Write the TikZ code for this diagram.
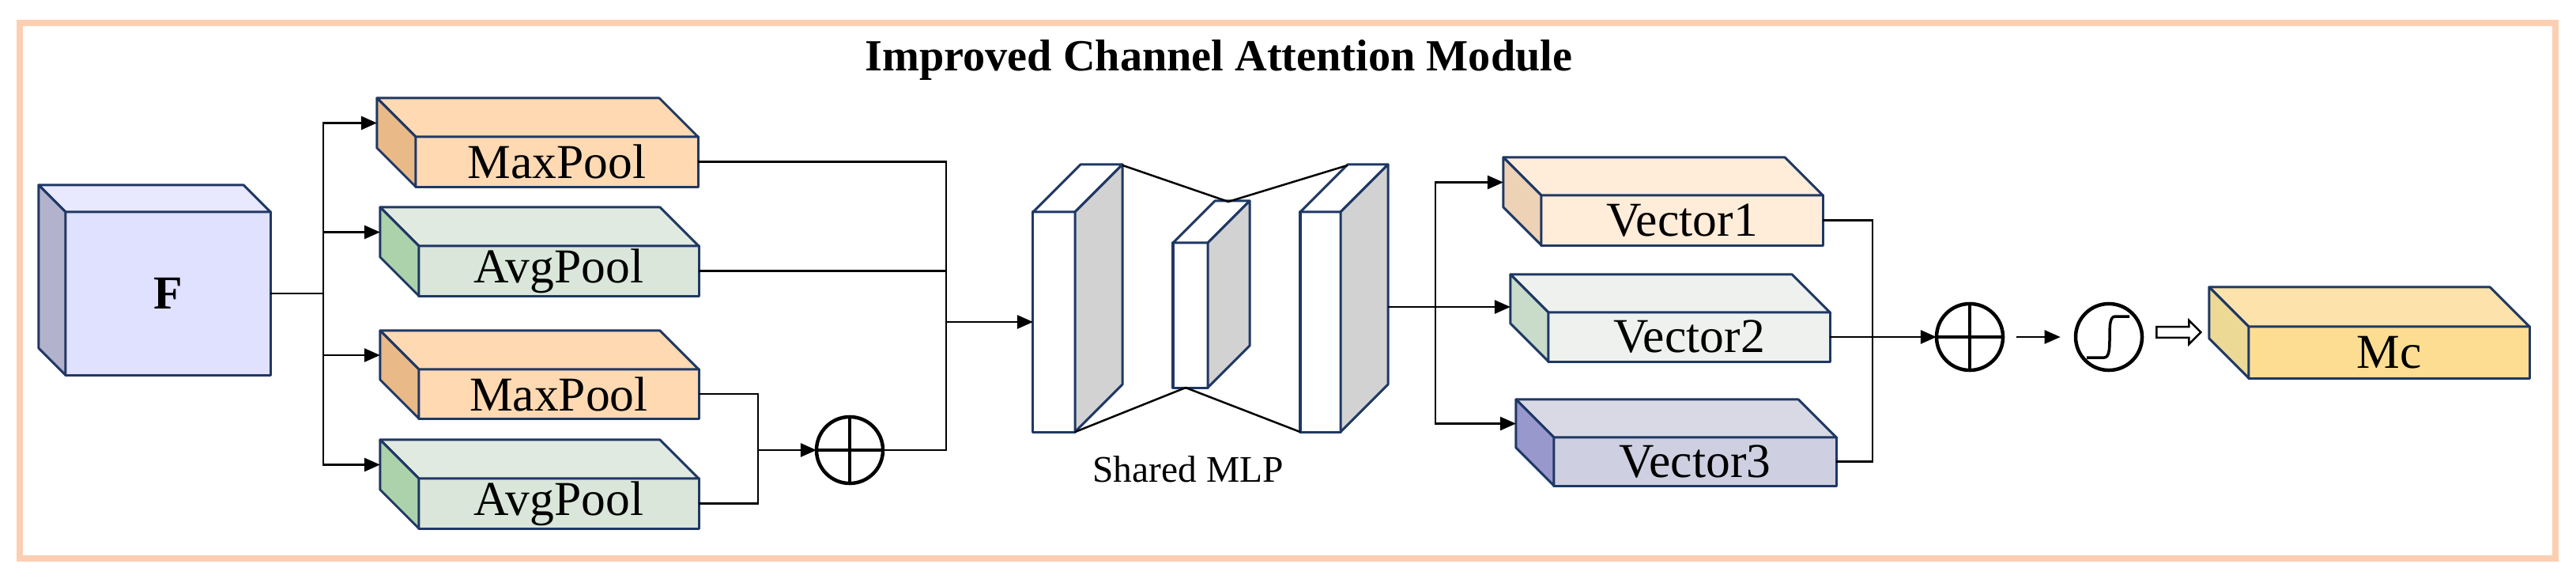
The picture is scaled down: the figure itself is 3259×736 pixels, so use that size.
\documentclass[tikz,border=0pt]{standalone}
\usepackage{fontspec}
\setmainfont{Liberation Serif}
\usepackage{xcolor}
\usetikzlibrary{arrows.meta,shapes.arrows,positioning,calc}

\definecolor{edgeblue}{HTML}{1F3864}
\definecolor{frameorange}{HTML}{FCCFB2}

\tikzset{
  edge/.style = {draw = edgeblue, line width = 0.03cm, line join = round},
  pbox/.style = {edge, rectangle, inner sep = 0pt, outer sep = 0pt,
                 font = \fontsize{17.5}{20}\selectfont},
  layer/.style = {edge, fill = white, rectangle, inner sep = 0pt, outer sep = 0pt},
  conn/.style = {draw = black, line width = 0.025cm},
  arr/.style = {conn, -{Triangle[length = 0.2cm, width = 0.17cm]}},
  oplus/.style = {circle, draw = black, line width = 0.045cm, minimum size = 0.84cm,
                  inner sep = 0pt, outer sep = 0pt,
                  path picture = {\draw[line width = 0.035cm]
                    ($(path picture bounding box.north)+(0,-0.13)$) -- ($(path picture bounding box.south)+(0,0.13)$)
                    ($(path picture bounding box.west)+(0.13,0)$) -- ($(path picture bounding box.east)+(-0.13,0)$);}}
}

% block with its back face up and to the left
% #1 name, #2 centre, #3 width, #4 height, #5 front, #6 top, #7 side, #8 text, #9 depth
\newcommand{\pblock}[9]{%
  \node[pbox, fill = #5, minimum width = #3, minimum height = #4] (#1) at #2 {#8};
  \draw[edge, fill = #6] (#1.north west) -- ++(-#9,-#9) -- ($(#1.north east)+(-#9,-#9)$) -- (#1.north east) -- cycle;
  \draw[edge, fill = #7] (#1.north west) -- ++(-#9,-#9) -- ($(#1.south west)+(-#9,-#9)$) -- (#1.south west) -- cycle;
  \coordinate (#1-in) at ($(#1.west)+(-#9,-#9)$);
}

% MLP layer, back face up and to the right
\newcommand{\mlplayer}[5]{%
  \node[layer, minimum width = #3, minimum height = #4] (#1) at #2 {};
  \draw[edge, fill = white] (#1.north west) -- ++(#5,-#5) -- ($(#1.north east)+(#5,-#5)$) -- (#1.north east) -- cycle;
  \draw[edge, fill = gray!35] (#1.north east) -- ++(#5,-#5) -- ($(#1.south east)+(#5,-#5)$) -- (#1.south east) -- cycle;
}

\begin{document}
\begin{tikzpicture}[x = 0.01cm, y = -0.01cm]
  \useasboundingbox (0,0) rectangle (3259,736);
  \draw[frameorange, line width = 0.08cm] (25,29) rectangle (3233,706);
  \node[font = \bfseries\fontsize{16}{18}\selectfont] (title) at (1542,76) {Improved Channel Attention Module};

  % input and pooling
  \pblock{f}{(212.5,371)}{2.59cm}{2.06cm}{blue!12}{blue!9}{blue!20!gray!50}{\bfseries\fontsize{17}{20}\selectfont F}{34}
  \pblock{mp1}{(704.5,204.5)}{3.57cm}{0.63cm}{orange!30}{orange!30}{orange!40!brown!55}{MaxPool}{49}
  \pblock{ap1}{(707,342.5)}{3.54cm}{0.63cm}{green!20!gray!25}{green!18!gray!20}{green!30!gray!50}{AvgPool}{49}
  \pblock{mp2}{(707,498)}{3.54cm}{0.62cm}{orange!30}{orange!30}{orange!40!brown!55}{MaxPool}{49}
  \pblock{ap2}{(707,636.5)}{3.54cm}{0.63cm}{green!20!gray!25}{green!18!gray!20}{green!30!gray!50}{AvgPool}{49}

  \coordinate (s1) at (409,371);
  \draw[conn] (f.east) -- (s1);
  \draw[arr] (s1) |- (mp1-in);
  \draw[arr] (s1) |- (ap1-in);
  \draw[arr] (s1) |- (mp2-in);
  \draw[arr] (s1) |- (ap2-in);

  \node[oplus] (plus1) at (1075,569) {};
  \coordinate (j2) at (959,569);
  \draw[conn] (mp2.east) -| (j2);
  \draw[conn] (ap2.east) -| (j2);
  \draw[arr] (j2) -- (plus1);

  % shared MLP
  \mlplayer{l1}{(1333.5,407)}{0.53cm}{2.78cm}{60}
  \mlplayer{l2}{(1506,398.5)}{0.44cm}{1.83cm}{53}
  \mlplayer{l3}{(1670.5,407)}{0.51cm}{2.78cm}{60}
  \draw[conn] ($(l1.north east)+(60,-59)$) -- ($(l2.north west)+(70,-52)$) -- ($(l3.north west)+(60,-59)$);
  \draw[conn] (l1.south east) -- ($(l2.south)+(-6,0)$) -- (l3.south west);
  \node[font = \fontsize{13.5}{16}\selectfont] (mlp) at (1503,593) {Shared MLP};

  \coordinate (j1) at (1197,407);
  \draw[conn] (mp1.east) -| (j1);
  \draw[conn] (plus1.east) -| (j1);
  \draw[conn] (ap1.east) -- (ap1.east -| j1);
  \draw[arr] (j1) -- (l1.west);

  % vectors
  \pblock{v1}{(2128,278.5)}{3.56cm}{0.63cm}{orange!15}{orange!15}{orange!25!brown!35}{Vector1}{48}
  \pblock{v2}{(2137,426)}{3.56cm}{0.62cm}{green!10!gray!12}{green!10!gray!12}{green!20!gray!35}{Vector2}{48}
  \pblock{v3}{(2144.5,583.5)}{3.57cm}{0.61cm}{blue!25!gray!30}{blue!20!gray!25}{blue!35!gray!60}{Vector3}{48}

  \coordinate (l3out) at ($(l3.east)+(60,-19)$);
  \coordinate (s2) at (1816,388);
  \draw[conn] (l3out) -- (s2);
  \draw[arr] (s2) |- (v1-in);
  \draw[arr] (s2) -- (s2 -| v2-in);
  \draw[arr] (s2) |- (v3-in);

  % fusion and output
  \node[oplus] (plus2) at (2492,426) {};
  \node[circle, draw = black, line width = 0.045cm, minimum size = 0.84cm, inner sep = 0pt] (sig) at (2668,426) {};
  \draw[line width = 0.035cm] ($(sig.center)+(-28,26)$) -- ($(sig.center)+(-6,26)$)
    .. controls ($(sig.center)+(8,26)$) and ($(sig.center)+(-6,-26)$) .. ($(sig.center)+(8,-26)$) -- ($(sig.center)+(26,-26)$);

  \coordinate (j3) at (2369,426);
  \draw[conn] (v1.east) -| (j3);
  \draw[conn] (v3.east) -| (j3);
  \draw[arr] (v2.east) -- (plus2.west);
  \draw[arr, shorten <= 0.17cm, shorten >= 0.17cm] (plus2.east) -- (sig.west);

  \pblock{mc}{(3022.5,445.5)}{3.55cm}{0.65cm}{yellow!40!orange!40}{yellow!30!orange!30}{yellow!40!brown!50}{Mc}{50}
  \node[single arrow, draw = black, fill = white, line width = 0.025cm, minimum height = 0.56cm,
        minimum width = 0.3cm, single arrow head extend = 0.04cm, inner sep = 0.6pt] (imp) at (2753,420) {};
\end{tikzpicture}
\end{document}
